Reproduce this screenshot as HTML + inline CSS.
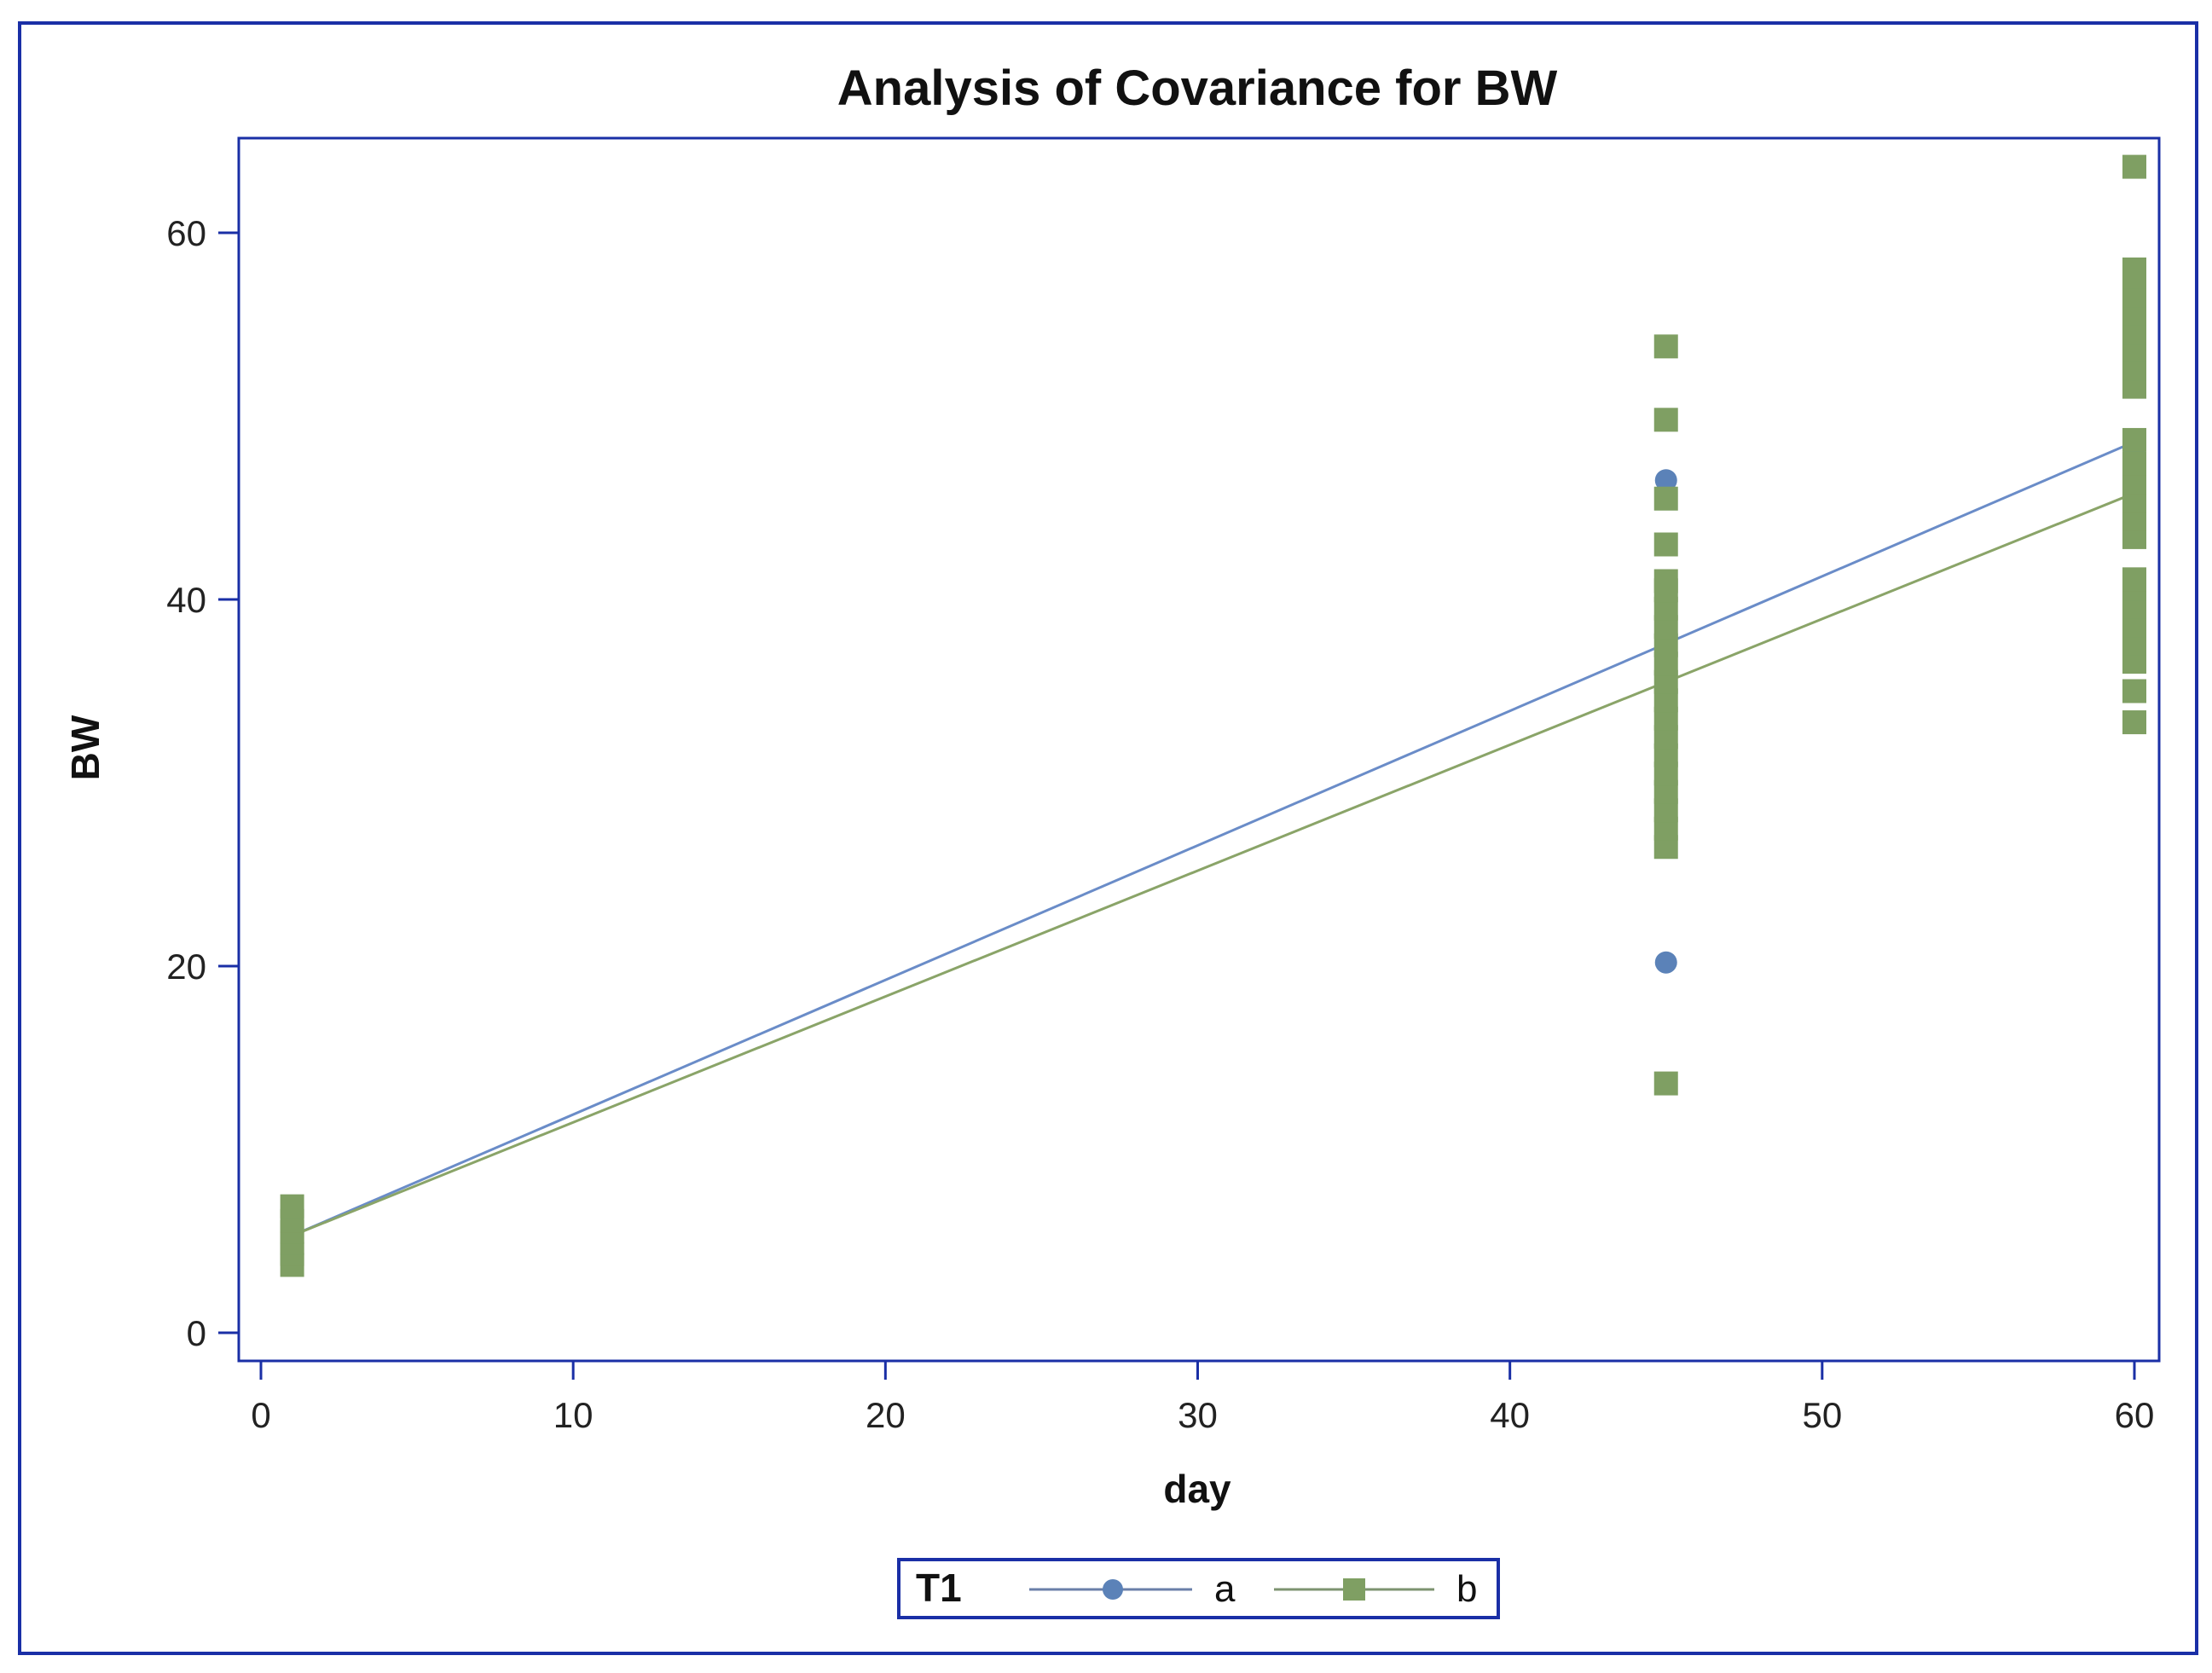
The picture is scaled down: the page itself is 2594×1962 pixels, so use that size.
<!DOCTYPE html>
<html><head><meta charset="utf-8"><style>
html,body{margin:0;padding:0;background:#fff;}
svg{display:block;font-family:"Liberation Sans",sans-serif;}
</style></head><body>
<svg id="chart" width="2594" height="1962" viewBox="0 0 2594 1962" xmlns="http://www.w3.org/2000/svg">
<rect x="23" y="27" width="2553" height="1912" fill="#fff" stroke="#1a2fa6" stroke-width="4"/>
<text x="1404" y="123" text-anchor="middle" font-size="58" font-weight="bold" fill="#111">Analysis of Covariance for BW</text>
<rect x="280" y="162" width="2252" height="1434" fill="#fff" stroke="#1a2fa6" stroke-width="3"/>
<g id="axes"></g>
<g id="marks"></g>
<text x="1404" y="1762" text-anchor="middle" font-size="46" font-weight="bold" fill="#111">day</text>
<text x="116" y="877" text-anchor="middle" font-size="46" font-weight="bold" fill="#111" transform="rotate(-90 116 877)">BW</text>
<g>
<rect x="1054" y="1829" width="703" height="68" fill="#fff" stroke="#1a2fa6" stroke-width="4"/>
<text x="1074" y="1878" font-size="46" font-weight="bold" fill="#111">T1</text>
<line x1="1207" y1="1864" x2="1398" y2="1864" stroke="#6a7fa8" stroke-width="3"/>
<circle cx="1305" cy="1864" r="12" fill="#5b82b8"/>
<text x="1424" y="1878" font-size="44" fill="#111">a</text>
<line x1="1494" y1="1864" x2="1682" y2="1864" stroke="#7d9370" stroke-width="3"/>
<rect x="1575" y="1851" width="26" height="26" fill="#7f9f63"/>
<text x="1708" y="1878" font-size="44" fill="#111">b</text>
</g>
</svg>
<script>
const xTicks = [0,10,20,30,40,50,60];
const yTicks = [0,20,40,60];
const aDays = [45,45,45,60];
const aValues = [46.5,20.2,36.5,47.9];
const bDays = [1,1,1,1,1,1,
45,45,45,45,45,45,45,45,45,45,45,45,45,45,45,45,45,45,45,45,45,
60,60,60,60,60,60,60,60,60,60,60,60,60,60,60,60,60,60,60,60,60,60,60];
const bValues = [3.7,4.3,4.9,5.5,6.1,6.9,
26.5,27.5,28.5,29.5,30.5,31.5,32.5,33.5,34.5,35.5,36.5,37.5,38.5,39.5,40.5,41.0,43.0,45.5,49.8,53.8,13.6,
63.6,51.6,52.6,53.6,54.6,55.6,56.6,57.6,58.0,43.4,44.4,45.4,46.4,47.4,48.7,36.6,37.6,38.6,39.6,40.6,41.1,35.0,33.3];
const fitDays = [1,60];
const fitA = [5.3,48.6];
const fitB = [5.3,45.8];

const NS='http://www.w3.org/2000/svg';
function xs(d){return 306+(d-0)*(2503-306)/60;}
function ys(v){return 1563-v*(1563-273)/60;}
const axes=document.getElementById('axes'), marks=document.getElementById('marks');
function mk(tag,attrs,parent){const e=document.createElementNS(NS,tag);for(const k in attrs)e.setAttribute(k,attrs[k]);parent.appendChild(e);return e;}
xTicks.forEach(t=>{
  const l=mk('line',{x1:xs(t),x2:xs(t),y1:1596,y2:1618,stroke:'#1a2fa6','stroke-width':3},axes);
  
  
  const tx=mk('text',{x:xs(t),y:1674,'text-anchor':'middle','font-size':42,fill:'#222'},axes);
  tx.textContent=t;
  
  
});
yTicks.forEach(t=>{
  const l=mk('line',{x1:256,x2:280,y1:ys(t),y2:ys(t),stroke:'#1a2fa6','stroke-width':3},axes);
  
  
  const tx=mk('text',{x:242,y:ys(t)+15,'text-anchor':'end','font-size':42,fill:'#222'},axes);
  tx.textContent=t;
  
  
});
const la=mk('line',{x1:xs(fitDays[0]),y1:ys(fitA[0]),x2:xs(fitDays[1]),y2:ys(fitA[1]),stroke:'#6a8cc8','stroke-width':3},marks);


const lb=mk('line',{x1:xs(fitDays[0]),y1:ys(fitB[0]),x2:xs(fitDays[1]),y2:ys(fitB[1]),stroke:'#8aa468','stroke-width':3},marks);


aValues.forEach((v,i)=>{
  const c=mk('circle',{cx:xs(aDays[i]),cy:ys(v),r:13,fill:'#5b82b8'},marks);
  
  
});
bValues.forEach((v,i)=>{
  const r=mk('rect',{x:xs(bDays[i])-14,y:ys(v)-14,width:28,height:28,fill:'#7f9f63'},marks);
  
  
});
</script>
</body></html>
